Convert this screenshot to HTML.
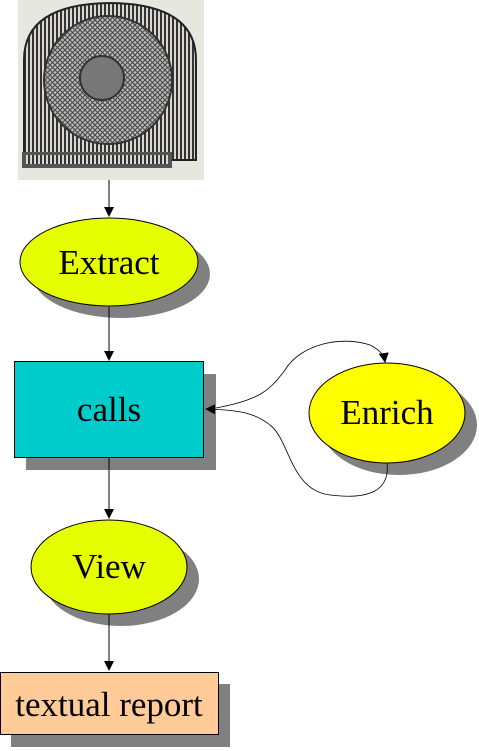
<!DOCTYPE html>
<html><head><style>html,body{margin:0;padding:0;background:#fff;}svg{display:block}</style></head>
<body>
<svg width="479" height="751" viewBox="0 0 479 751" xmlns="http://www.w3.org/2000/svg" font-family="'Liberation Serif', serif">
<defs>
<marker id="a" markerWidth="10" markerHeight="10" refX="9" refY="5" orient="auto" markerUnits="userSpaceOnUse"><path d="M0,0 L10,5 L0,10 z" fill="#000"/></marker>
<pattern id="st" width="4" height="4" patternUnits="userSpaceOnUse"><rect width="4" height="4" fill="#d8d8d0"/><rect width="2" height="4" fill="#333"/></pattern>
<pattern id="tx" width="5" height="5" patternUnits="userSpaceOnUse"><rect width="5" height="5" fill="#bbb"/><path d="M0,0 L5,5 M5,0 L0,5" stroke="#444" stroke-width="1"/></pattern>
</defs>
<!-- image -->
<rect x="18" y="0" width="186" height="180" fill="#e6e8e0"/>
<path d="M24,160 L24,60 Q24,4 110,3 Q196,4 196,60 L196,160 Z" fill="url(#st)" stroke="#222" stroke-width="2"/>
<circle cx="108" cy="80" r="64" fill="url(#tx)" stroke="#333" stroke-width="2"/>
<circle cx="102" cy="78" r="22" fill="#777" stroke="#333" stroke-width="2"/>
<rect x="22" y="152" width="150" height="16" fill="#555"/>
<rect x="26" y="155" width="142" height="9" fill="url(#st)"/>
<line x1="109" y1="180" x2="109" y2="216" stroke="#000" marker-end="url(#a)"/>
<!-- Extract -->
<ellipse cx="121" cy="274" rx="89" ry="44" fill="#808080"/>
<ellipse cx="109" cy="262" rx="89" ry="44" fill="#e6ff00" stroke="#000"/>
<text x="109" y="274" font-size="35" text-anchor="middle">Extract</text>
<line x1="109" y1="307" x2="109" y2="360" stroke="#000" marker-end="url(#a)"/>
<!-- calls -->
<rect x="26" y="374" width="190" height="96" fill="#808080"/>
<rect x="14.5" y="361.5" width="189" height="96" fill="#00cccc" stroke="#000"/>
<text x="109" y="421" font-size="35" text-anchor="middle">calls</text>
<line x1="109" y1="458" x2="109" y2="518" stroke="#000" marker-end="url(#a)"/>
<!-- Enrich -->
<ellipse cx="399" cy="425" rx="78" ry="50" fill="#808080"/>
<ellipse cx="387" cy="413" rx="78" ry="50" fill="#ffff00" stroke="#000"/>
<text x="387" y="424" font-size="35" text-anchor="middle">Enrich</text>
<path d="M216,408 C260,400 270,390 285,370 C300,345 340,335 370,345 C380,350 384,355 385,362" fill="none" stroke="#000" stroke-width="0.8" marker-end="url(#a)"/>
<path d="M387,463 C390,490 370,500 330,495 C290,490 290,440 270,425 C255,413 240,410 206,409" fill="none" stroke="#000" stroke-width="0.8" marker-end="url(#a)"/>
<!-- View -->
<ellipse cx="121" cy="579" rx="78" ry="47" fill="#808080"/>
<ellipse cx="109" cy="567" rx="78" ry="47" fill="#e6ff00" stroke="#000"/>
<text x="109" y="578" font-size="35" text-anchor="middle">View</text>
<line x1="109" y1="614" x2="109" y2="670" stroke="#000" marker-end="url(#a)"/>
<!-- textual report -->
<rect x="11" y="684" width="219" height="63" fill="#808080"/>
<rect x="0.5" y="672.5" width="218" height="62" fill="#ffcc99" stroke="#000"/>
<text x="109" y="716" font-size="35" text-anchor="middle">textual report</text>
</svg>
</body></html>
